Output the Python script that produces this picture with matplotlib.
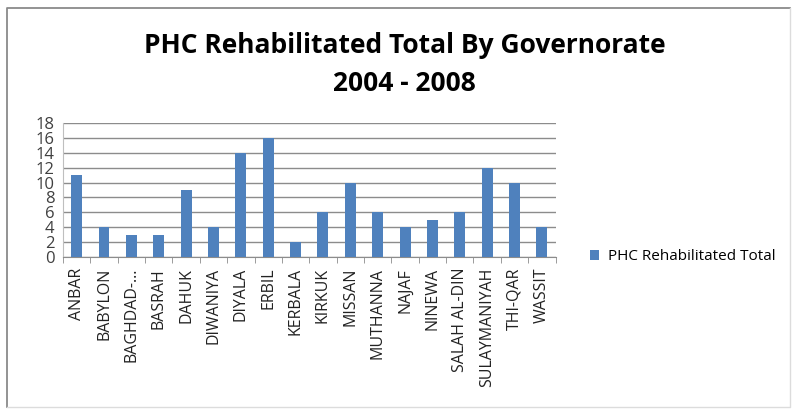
import matplotlib.pyplot as plt
from matplotlib.lines import Line2D
import numpy as np

governorates = ['ANBAR', 'BABYLON', 'BAGHDAD-...', 'BASRAH', 'DAHUK', 'DIWANIYA',
                'DIYALA', 'ERBIL', 'KERBALA', 'KIRKUK', 'MISSAN', 'MUTHANNA',
                'NAJAF', 'NINEWA', 'SALAH AL-DIN', 'SULAYMANIYAH', 'THI-QAR', 'WASSIT']
totals = [11, 4, 3, 3, 9, 4, 14, 16, 2, 6, 10, 6, 4, 5, 6, 12, 10, 4]
yticks = list(range(0, 19, 2))

plt.rcParams['font.family'] = ['Open Sans', 'DejaVu Sans']

fig = plt.figure(figsize=(7.92, 4.09), dpi=100)
ax = fig.add_axes([0.0795, 0.372, 0.622, 0.327])

x = np.arange(len(governorates))
ax.bar(x, totals, width=0.4, color='#4F81BD', zorder=3, label='PHC Rehabilitated Total')

ax.set_xlim(-0.5, len(governorates) - 0.5)
ax.set_ylim(0, 18)
ax.set_yticks(yticks)
ax.set_yticklabels([str(v) for v in yticks], fontsize=12, color='#404040')
ax.yaxis.grid(True, color='#8c8c8c', linewidth=1, zorder=0)
ax.tick_params(axis='y', length=0, pad=6)

ax.set_xticks(x)
ax.set_xticklabels(governorates, rotation=90, fontsize=11.5, color='#222222')
ax.set_xticks(np.arange(-0.5, len(governorates), 1), minor=True)
ax.tick_params(axis='x', which='major', length=0, pad=8)
ax.tick_params(axis='x', which='minor', length=4, color='#8c8c8c', direction='out')

for side in ['top', 'right']:
    ax.spines[side].set_visible(False)
ax.spines['left'].set_color('#bfbfbf')
ax.spines['bottom'].set_color('#8c8c8c')

fig.text(0.511, 0.888, 'PHC Rehabilitated Total By Governorate', ha='center', va='center',
         fontsize=19, fontweight='bold')
fig.text(0.511, 0.797, '2004 - 2008', ha='center', va='center',
         fontsize=19, fontweight='bold')

fig.legend(loc='center left', bbox_to_anchor=(0.727, 0.372), frameon=False,
           fontsize=11, handlelength=0.6, handleheight=0.6, handletextpad=0.6)

# outer frame: darker on left/top, faint on right/bottom
fig.lines.append(Line2D([0.009, 0.009, 0.997], [0.005, 0.98, 0.98], transform=fig.transFigure,
                        color='#8a8a8a', linewidth=1.3))
fig.lines.append(Line2D([0.009, 0.997, 0.997], [0.005, 0.005, 0.98], transform=fig.transFigure,
                        color='#dcdcdc', linewidth=1.0))

fig.savefig('out.png', dpi=100)
